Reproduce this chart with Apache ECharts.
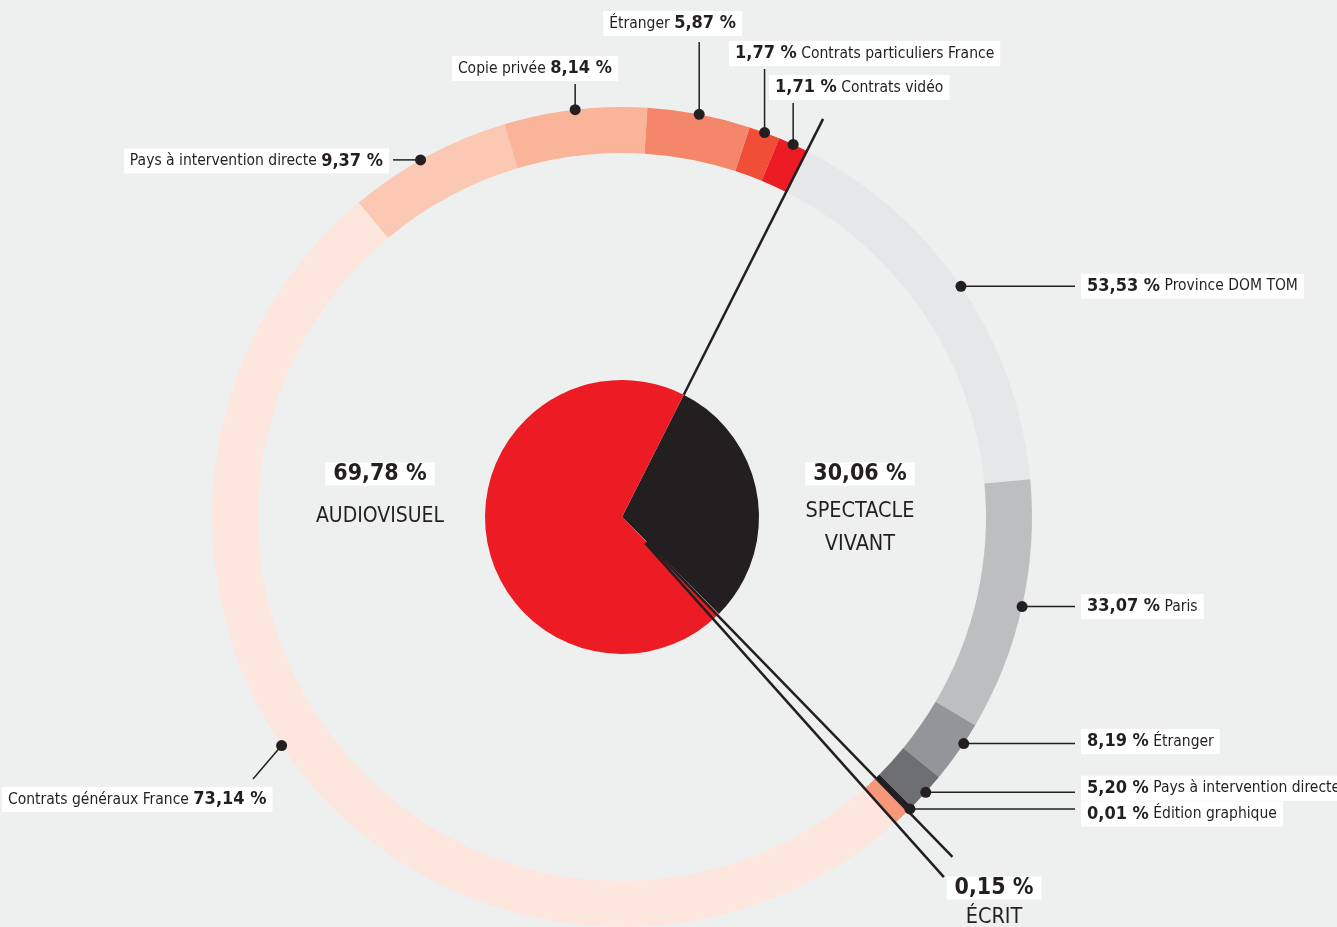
<!DOCTYPE html>
<html><head><meta charset="utf-8">
<script src="https://cdn.jsdelivr.net/npm/echarts@6/dist/echarts.min.js"></script>
<style>html,body{margin:0;padding:0;background:#eef0ef;}#c{width:1337px;height:927px;}</style>
</head><body><div id="c"></div><script>
// ---------- DATA ----------
const mainNames = ['Spectacle vivant', 'Écrit', 'Audiovisuel'];
const mainValues = [30.06, 0.15, 69.78];
const mainLabels = [['SPECTACLE', 'VIVANT'], ['ÉCRIT'], ['AUDIOVISUEL']];

const svNames = ['Province DOM TOM', 'Paris', 'Étranger', 'Pays à intervention directe', 'Édition graphique'];
const svValues = [53.53, 33.07, 8.19, 5.20, 0.01];

const avNames = ['Contrats généraux France', 'Pays à intervention directe', 'Copie privée', 'Étranger', 'Contrats particuliers France', 'Contrats vidéo'];
const avValues = [73.14, 9.37, 8.14, 5.87, 1.77, 1.71];

// ---------- STYLE ----------
const CX = 622, CY = 517, R_PIE = 137, R_IN = 364, R_OUT = 410;
const START_DEG = 26.8;                 // clockwise from north
const MIN_SHARE = { tiny: 0.22, ecrit: 0.67 }; // displayed minimum share (% of circle) for tiny ring pieces
const INK = '#231f20';
const mainColors = ['#231f20', '#f7977a', '#ed1c24'];
const svColors = ['#e6e7e8', '#bcbec0', '#939598', '#6d6e71', '#231f20'];
const avColors = ['#fde6dd', '#fbc8b4', '#f9b49a', '#f4876a', '#f04e37', '#ed1c24'];
const ecritRingColor = '#f7977a';
const F_REG = "'DejaVu Sans Condensed', 'DejaVu Sans', sans-serif";
const F_BOLD = "'DejaVu Sans Condensed', 'DejaVu Sans', sans-serif";

const svLayout = [
  { side: 'right', dy: 0 },
  { side: 'right', dy: 0 },
  { side: 'right', dy: -2, shift: -1.4 },
  { side: 'right', dy: -4 },
  { side: 'right', dy: 5 }
];
const avLayout = [
  { side: 'free', boxX: 2, boxY: 787, end: [253, 779], shift: 7, numFirst: false },
  { side: 'left', boxRight: 389, lineEnd: 393, dy: 1, shift: -1.1, numFirst: false },
  { side: 'topR', boxRight: 618, boxBottom: 81, lineTop: 84, numFirst: false },
  { side: 'topR', boxRight: 742, boxBottom: 36, lineTop: 42, numFirst: false },
  { side: 'top', boxX: 729, boxBottom: 66, lineTop: 69, numFirst: true },
  { side: 'top', boxX: 769, boxBottom: 100, lineTop: 103, numFirst: true }
];
const innerLabelPos = [ { x: 860, y: 458 }, { x: 994, y: 872 }, { x: 380, y: 458 } ];
const RIGHT_LINE_END = 1075, RIGHT_BOX_X = 1081;

// ---------- BUILD ----------
const fmt = v => v.toFixed(2).replace('.', ',') + ' %';
const sum = a => a.reduce((s, v) => s + v, 0);

const ring = [];
svNames.forEach((n, i) => {
  const share = Math.max(svValues[i] * mainValues[0] / 100, svValues[i] < 1 ? MIN_SHARE.tiny : 0);
  ring.push({ name: n, value: share, pct: svValues[i], color: svColors[i], layout: svLayout[i] });
});
ring.push({ name: 'Écrit', value: Math.max(mainValues[1], MIN_SHARE.ecrit), pct: mainValues[1], color: ecritRingColor, layout: null });
const used = sum(ring.map(d => d.value));
const avSum = sum(avValues);
avNames.forEach((n, i) => {
  ring.push({ name: n, value: avValues[i] / avSum * (100 - used), pct: avValues[i], color: avColors[i], layout: avLayout[i] });
});
const total = sum(ring.map(d => d.value));
let cum = 0;
ring.forEach(d => {
  d.a0 = START_DEG + cum / total * 360; cum += d.value;
  d.a1 = START_DEG + cum / total * 360;
  d.mid = (d.a0 + d.a1) / 2;
});
const norm = a => ((a % 360) + 360) % 360;
const ecritRing = ring.find(d => d.layout === null);

function anchor(d) {
  const a = (d.mid + (d.layout.shift || 0)) * Math.PI / 180;
  return [CX + R_OUT * Math.sin(a), CY - R_OUT * Math.cos(a)];
}

const dots = ring.filter(d => d.layout).map(d => [R_OUT, norm(d.mid + (d.layout.shift || 0))]);

const richCommon = {
  v: { fontFamily: F_BOLD, fontWeight: 'bold', fontSize: 18, color: INK, lineHeight: 19 },
  n: { fontFamily: F_REG, fontSize: 15.5, color: INK, lineHeight: 19 },
  s: { fontFamily: F_REG, fontSize: 15.5, color: INK, lineHeight: 19 }
};

function ringFormatter(p) {
  const d = ring[p.dataIndex];
  if (!d.layout) return '';
  const numFirst = d.layout.numFirst !== false;
  return numFirst ? '{v|' + fmt(d.pct) + '}{s| }{n|' + d.name + '}' : '{n|' + d.name + '}{s| }{v|' + fmt(d.pct) + '}';
}

function ringLabelLayout(p) {
  const d = ring[p.dataIndex];
  const L = d.layout;
  if (!L) return {};
  const [px, py] = anchor(d);
  if (L.side === 'right') {
    return { x: RIGHT_BOX_X, y: py + (L.dy || 0), align: 'left', verticalAlign: 'middle',
      labelLinePoints: [[px, py], [RIGHT_LINE_END, py], [RIGHT_LINE_END, py]] };
  }
  if (L.side === 'left') {
    return { x: L.boxRight, y: py + (L.dy || 0), align: 'right', verticalAlign: 'middle',
      labelLinePoints: [[px, py], [L.lineEnd, py], [L.lineEnd, py]] };
  }
  if (L.side === 'top') {
    return { x: L.boxX, y: L.boxBottom, align: 'left', verticalAlign: 'bottom',
      labelLinePoints: [[px, py], [px, L.lineTop], [px, L.lineTop]] };
  }
  if (L.side === 'topR') {
    return { x: L.boxRight, y: L.boxBottom, align: 'right', verticalAlign: 'bottom',
      labelLinePoints: [[px, py], [px, L.lineTop], [px, L.lineTop]] };
  }
  return { x: L.boxX, y: L.boxY, align: 'left', verticalAlign: 'top',
    labelLinePoints: [[px, py], L.end, L.end] };
}

const innerData = mainNames.map((n, i) => ({ name: n, value: mainValues[i], itemStyle: { color: mainColors[i] } }));
function innerFormatter(p) {
  const i = p.dataIndex;
  const lines = mainLabels[i];
  let s = '{v|' + fmt(mainValues[i]) + '}';
  if (lines.length === 2) s += '\n{n1|' + lines[0] + '}\n{n2|' + lines[1] + '}';
  else if (i === 1) s += '\n{nE|' + lines[0] + '}';
  else s += '\n{nA|' + lines[0] + '}';
  return s;
}

function radial(angle, r0, r1) {
  return { type: 'line', coordinateSystem: 'polar', data: [[r0, norm(angle)], [r1, norm(angle)]],
    symbol: 'none', silent: true, clip: false, z: 8, animation: false,
    lineStyle: { color: INK, width: 2.5 } };
}

const chart = echarts.init(document.getElementById('c'), null, { renderer: 'canvas' });
chart.setOption({
  backgroundColor: '#eef0ef',
  animation: false,
  polar: { center: [CX, CY], radius: 500 },
  angleAxis: { type: 'value', min: 0, max: 360, startAngle: 90, clockwise: true, show: false },
  radiusAxis: { type: 'value', min: 0, max: 500, show: false },
  series: [
    {
      type: 'pie', center: [CX, CY], radius: [0, R_PIE], startAngle: 90 - START_DEG, clockwise: true,
      silent: true, avoidLabelOverlap: false, z: 2,
      data: innerData,
      label: {
        show: true, position: 'outside', formatter: innerFormatter, color: INK,
        rich: {
          v: { fontFamily: F_BOLD, fontWeight: 'bold', fontSize: 23, color: INK, lineHeight: 32, backgroundColor: '#ffffff', padding: [0, 8] },
          nA: { fontFamily: F_REG, fontSize: 21, color: INK, lineHeight: 54 },
          n1: { fontFamily: F_REG, fontSize: 21.5, color: INK, lineHeight: 42 },
          n2: { fontFamily: F_REG, fontSize: 21.5, color: INK, lineHeight: 24 },
          nE: { fontFamily: F_REG, fontSize: 21.5, color: INK, lineHeight: 26 }
        }
      },
      labelLine: { show: false },
      labelLayout: p => ({ x: innerLabelPos[p.dataIndex].x, y: innerLabelPos[p.dataIndex].y, align: 'center', verticalAlign: 'top' })
    },
    {
      type: 'pie', center: [CX, CY], radius: [R_IN, R_OUT], startAngle: 90 - START_DEG, clockwise: true,
      silent: true, avoidLabelOverlap: false, z: 2,
      data: ring.map(d => ({ name: d.name, value: d.value, itemStyle: { color: d.color },
        label: { show: !!d.layout }, labelLine: { show: !!d.layout } })),
      label: {
        show: true, position: 'outside', formatter: ringFormatter, backgroundColor: '#ffffff',
        padding: [3, 6, 3, 6], color: INK, rich: richCommon
      },
      labelLine: { show: true, lineStyle: { color: INK, width: 1.5 } },
      labelLayout: ringLabelLayout
    },
    radial(START_DEG, R_PIE, 446),
    radial(ecritRing.a0, 35, 474),
    radial(ecritRing.a1, 35, 483),
    {
      type: 'scatter', coordinateSystem: 'polar', data: dots, symbol: 'circle', symbolSize: 11,
      itemStyle: { color: INK, opacity: 1 }, silent: true, z: 10
    }
  ]
});
</script></body></html>
